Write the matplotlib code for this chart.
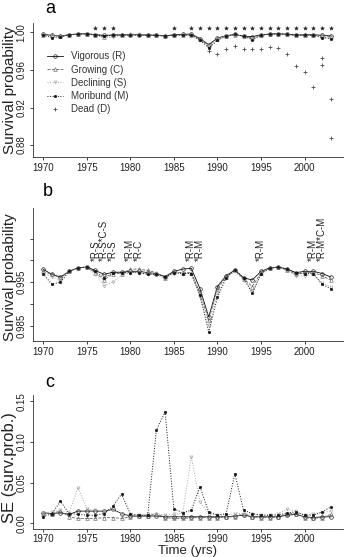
import matplotlib.pyplot as plt

plt.rcParams['font.family'] = ['Liberation Sans', 'DejaVu Sans']

# Data
years = list(range(1970, 2004))

# survival probability per vigour class (panels a and b)
surv_R = [0.9980, 0.9968, 0.9962, 0.9975, 0.9983, 0.9985, 0.9977, 0.9968, 0.9973, 0.9973,
          0.9975, 0.9975, 0.9972, 0.9970, 0.9963, 0.9975, 0.9980, 0.9982, 0.9935, 0.9870,
          0.9940, 0.9965, 0.9978, 0.9960, 0.9955, 0.9975, 0.9983, 0.9985, 0.9980, 0.9972,
          0.9975, 0.9975, 0.9970, 0.9962]
surv_C = [0.9975, 0.9968, 0.9960, 0.9975, 0.9983, 0.9984, 0.9972, 0.9955, 0.9970, 0.9970,
          0.9980, 0.9980, 0.9977, 0.9972, 0.9960, 0.9973, 0.9972, 0.9972, 0.9925, 0.9862,
          0.9935, 0.9963, 0.9977, 0.9958, 0.9940, 0.9972, 0.9983, 0.9984, 0.9978, 0.9968,
          0.9972, 0.9972, 0.9965, 0.9955]
surv_S = [0.9972, 0.9962, 0.9955, 0.9974, 0.9983, 0.9984, 0.9968, 0.9942, 0.9950, 0.9966,
          0.9972, 0.9972, 0.9970, 0.9968, 0.9958, 0.9970, 0.9970, 0.9970, 0.9915, 0.9850,
          0.9925, 0.9960, 0.9975, 0.9955, 0.9930, 0.9968, 0.9982, 0.9984, 0.9978, 0.9965,
          0.9965, 0.9968, 0.9948, 0.9940]
surv_M = [0.9970, 0.9945, 0.9950, 0.9975, 0.9983, 0.9985, 0.9975, 0.9960, 0.9972, 0.9972,
          0.9972, 0.9972, 0.9968, 0.9968, 0.9962, 0.9972, 0.9970, 0.9970, 0.9920, 0.9835,
          0.9915, 0.9960, 0.9978, 0.9960, 0.9924, 0.9970, 0.9982, 0.9985, 0.9980, 0.9972,
          0.9970, 0.9970, 0.9945, 0.9935]

# dead trees (panel a only)
dead_years = [1989, 1990, 1991, 1992, 1993, 1994, 1995, 1996, 1997, 1998,
              1999, 2000, 2001, 2002, 2003]
dead_vals = [0.980, 0.977, 0.982, 0.985, 0.982, 0.982, 0.982, 0.984, 0.983, 0.977,
             0.964, 0.958, 0.942, 0.965, 0.888]
dead_extra_years = [2002, 2003]
dead_extra_vals = [0.973, 0.929]

# significance stars in panel a
sig_years_a = [1976, 1977, 1978, 1985] + list(range(1987, 2004))
sig_level_a = 1.0043

# pairwise significance labels in panel b
sig_years_b = [1976, 1977, 1978, 1980, 1981, 1987, 1988, 1995, 2001, 2002]
sig_labels_b = ["*R-S", "*R-S*C-S", "*R-S", "*R-M", "*R-C", "*R-M", "*R-M",
                "*R-M", "*R-M", "*R-M*C-M"]
sig_level_b = 0.9998

# standard errors (panel c)
se_R = [0.013, 0.012, 0.013, 0.011, 0.015, 0.015, 0.015, 0.015, 0.017, 0.012,
        0.009, 0.009, 0.009, 0.009, 0.008, 0.008, 0.008, 0.008, 0.008, 0.008,
        0.008, 0.008, 0.009, 0.010, 0.008, 0.008, 0.008, 0.008, 0.010, 0.011,
        0.008, 0.007, 0.008, 0.008]
se_C = [0.012, 0.012, 0.015, 0.008, 0.006, 0.006, 0.006, 0.007, 0.007, 0.006,
        0.008, 0.009, 0.009, 0.012, 0.007, 0.006, 0.006, 0.007, 0.007, 0.007,
        0.007, 0.008, 0.008, 0.012, 0.008, 0.007, 0.007, 0.008, 0.012, 0.012,
        0.007, 0.006, 0.007, 0.011]
se_S = [0.013, 0.014, 0.016, 0.013, 0.044, 0.018, 0.016, 0.015, 0.016, 0.012,
        0.010, 0.010, 0.011, 0.012, 0.010, 0.011, 0.012, 0.082, 0.026, 0.012,
        0.010, 0.010, 0.012, 0.012, 0.011, 0.010, 0.010, 0.012, 0.017, 0.015,
        0.010, 0.012, 0.013, 0.015]
se_M = [0.008, 0.012, 0.027, 0.012, 0.011, 0.010, 0.010, 0.012, 0.021, 0.036,
        0.012, 0.010, 0.010, 0.115, 0.137, 0.018, 0.013, 0.016, 0.045, 0.014,
        0.010, 0.012, 0.061, 0.016, 0.012, 0.010, 0.010, 0.010, 0.013, 0.014,
        0.010, 0.010, 0.014, 0.020]

labels = ["Vigorous (R)", "Growing (C)", "Declining (S)", "Moribund (M)", "Dead (D)"]

sty_R = dict(color="#111111", ls="-", lw=0.6, marker="o", ms=2.6, mfc="none", mew=0.45)
sty_C = dict(color="#666666", ls="--", lw=0.6, marker="^", ms=2.6, mfc="none", mew=0.45)
sty_S = dict(color="#a8a8a8", ls=":", lw=0.7, marker="v", ms=2.2, mfc="none", mew=0.45)
sty_M = dict(color="#111111", ls=":", lw=0.7, marker="o", ms=1.9, mew=0.3)
sty_D = dict(color="#444444", ls="none", marker="+", ms=3.2, mew=0.55)

fig = plt.figure(figsize=(3.44, 5.57), dpi=100)
ax_a = fig.add_axes([0.096, 0.718, 0.901, 0.2405])
ax_b = fig.add_axes([0.096, 0.388, 0.901, 0.2386])
ax_c = fig.add_axes([0.096, 0.0503, 0.901, 0.2406])


def style_axes(ax):
    for side in ["top", "right"]:
        ax.spines[side].set_visible(False)
    for side in ["left", "bottom"]:
        ax.spines[side].set_linewidth(0.6)
        ax.spines[side].set_color("#333333")
    ax.tick_params(length=2, width=0.6, pad=2.5, labelsize=7, colors="#222222")
    ax.tick_params(axis="y", labelrotation=90)
    for t in ax.get_yticklabels():
        t.set_va("center")
    ax.set_xlim(1968.85, 2004.4)
    ax.set_xticks([1970, 1975, 1980, 1985, 1990, 1995, 2000])


# Panel a
ax_a.plot(years, surv_R, label=labels[0], **sty_R)
ax_a.plot(years, surv_C, label=labels[1], **sty_C)
ax_a.plot(years, surv_S, label=labels[2], **sty_S)
ax_a.plot(years, surv_M, label=labels[3], **sty_M)
ax_a.plot(dead_years, dead_vals, label=labels[4], **sty_D)
ax_a.plot(dead_extra_years, dead_extra_vals, **sty_D)
ax_a.plot(sig_years_a, [sig_level_a] * len(sig_years_a), ls="none",
          marker="*", ms=3, color="#222222", mew=0.3)
ax_a.set_ylim(0.8672, 1.0099)
ax_a.set_yticks([0.88, 0.92, 0.96, 1.00])
ax_a.set_yticklabels(["0.88", "0.92", "0.96", "1.00"])
style_axes(ax_a)
ax_a.set_ylabel("Survival probability", fontsize=11, color="#222222")
ax_a.yaxis.set_label_coords(-0.052, 0.5)
ax_a.legend(loc="upper left", bbox_to_anchor=(0.045, 0.79), frameon=False,
            fontsize=7, handlelength=1.6, handletextpad=0.9, labelspacing=0.34,
            borderpad=0, borderaxespad=0, labelcolor="#333333")

# Panel b
ax_b.plot(years, surv_R, **sty_R)
ax_b.plot(years, surv_C, **sty_C)
ax_b.plot(years, surv_S, **sty_S)
ax_b.plot(years, surv_M, **sty_M)
for yr, lab in zip(sig_years_b, sig_labels_b):
    ax_b.text(yr, sig_level_b, lab, rotation=90, ha="center", va="bottom",
              fontsize=7, color="#222222")
ax_b.set_ylim(0.98147, 1.0121)
ax_b.set_yticks([0.985, 0.990, 0.995, 1.000, 1.005])
ax_b.set_yticklabels(["0.985", "", "0.995", "", ""])
style_axes(ax_b)
ax_b.set_ylabel("Survival probability", fontsize=11, color="#222222")
ax_b.yaxis.set_label_coords(-0.052, 0.48)

# Panel c
ax_c.plot(years, se_R, **sty_R)
ax_c.plot(years, se_C, **sty_C)
ax_c.plot(years, se_S, **sty_S)
ax_c.plot(years, se_M, **sty_M)
ax_c.set_ylim(-0.007, 0.158)
ax_c.set_yticks([0.00, 0.05, 0.10, 0.15])
ax_c.set_yticklabels(["0.00", "0.05", "0.10", "0.15"])
style_axes(ax_c)
ax_c.tick_params(axis="x", pad=1.5)
ax_c.set_ylabel("SE (surv.prob.)", fontsize=12, color="#222222")
ax_c.yaxis.set_label_coords(-0.052, 0.46)
ax_c.set_xlabel("Time (yrs)", fontsize=9.5, color="#222222")
ax_c.xaxis.set_label_coords(0.5, -0.118)

fig.text(0.145, 0.984, "a", fontsize=13, ha="center", va="center")
fig.text(0.140, 0.657, "b", fontsize=13, ha="center", va="center")
fig.text(0.145, 0.314, "c", fontsize=13, ha="center", va="center")

fig.savefig("out.png", dpi=100)
